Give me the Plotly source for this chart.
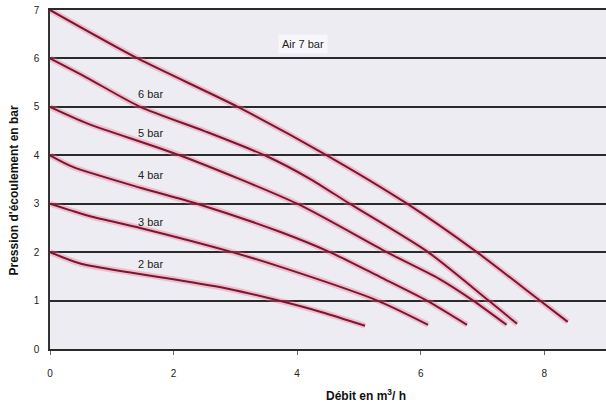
import plotly.graph_objects as go

# Curves: flow (m3/h) vs outlet pressure (bar) for each inlet air pressure
flow_7bar = [0, 1.42, 3.04, 4.48, 5.78, 6.91, 7.93, 8.38]
pres_7bar = [7, 6.0, 5.0, 4.0, 3.0, 2.0, 1.0, 0.56]

flow_6bar = [0, 0.6, 1.46, 2.5, 3.51, 4.2, 4.85, 6.12, 7.1, 7.56]
pres_6bar = [6, 5.6, 5.0, 4.5, 3.98, 3.52, 3.0, 2.0, 1.0, 0.52]

flow_5bar = [0, 0.6, 2.1, 4.0, 5.45, 6.3, 6.85, 7.39]
pres_5bar = [5, 4.66, 4.0, 3.0, 2.0, 1.45, 1.0, 0.5]

flow_4bar = [0, 0.37, 1.46, 2.38, 3.72, 4.53, 5.34, 6.1, 6.75]
pres_4bar = [4, 3.76, 3.33, 3.0, 2.42, 2.0, 1.49, 1.0, 0.5]

flow_3bar = [0, 0.65, 1.46, 2.95, 3.72, 5.3, 6.12]
pres_3bar = [3, 2.74, 2.5, 2.0, 1.7, 1.0, 0.5]

flow_2bar = [0, 0.5, 1.3, 2.0, 2.9, 3.7, 4.4, 5.1]
pres_2bar = [2, 1.76, 1.58, 1.44, 1.24, 1.0, 0.76, 0.48]

curve_names = ["Air 7 bar", "6 bar", "5 bar", "4 bar", "3 bar", "2 bar"]
curve_flows = [flow_7bar, flow_6bar, flow_5bar, flow_4bar, flow_3bar, flow_2bar]
curve_pres = [pres_7bar, pres_6bar, pres_5bar, pres_4bar, pres_3bar, pres_2bar]

label_x = [4.1, 1.62, 1.62, 1.62, 1.62, 1.62]
label_y = [6.29, 5.26, 4.47, 3.60, 2.63, 1.76]

x_ticks = [0, 2, 4, 6, 8]
y_ticks = [0, 1, 2, 3, 4, 5, 6, 7]

fig = go.Figure()

for name, fx, py in zip(curve_names, curve_flows, curve_pres):
    # soft pink halo
    fig.add_trace(go.Scatter(
        x=fx, y=py, mode="lines", showlegend=False, hoverinfo="skip",
        line=dict(color="rgba(240,110,140,0.35)", width=6, shape="spline", smoothing=0.7),
    ))
    fig.add_trace(go.Scatter(
        x=fx, y=py, mode="lines", name=name, showlegend=False,
        line=dict(color="#7a1630", width=2, shape="spline", smoothing=0.7),
    ))

for name, lx, ly in zip(curve_names, label_x, label_y):
    is_main = name.startswith("Air")
    fig.add_annotation(
        x=lx, y=ly, xref="x", yref="y", text=name, showarrow=False,
        font=dict(family="Liberation Sans, Arial", size=11, color="#222"),
        bgcolor="rgba(250,250,252,0.8)" if is_main else None,
        borderpad=3,
    )

fig.add_annotation(
    x=0.568, y=-0.135, xref="paper", yref="paper",
    text="<b>Débit en m<sup>3</sup>/ h</b>", showarrow=False,
    font=dict(family="Liberation Sans, Arial", size=12, color="#111"),
    yanchor="middle",
)
fig.add_annotation(
    x=-0.065, y=0.47, xref="paper", yref="paper",
    text="<b>Pression d'écoulement en bar</b>", showarrow=False, textangle=-90,
    font=dict(family="Liberation Sans, Arial", size=12, color="#111"),
    xanchor="center",
)

fig.update_layout(
    width=606, height=410,
    margin=dict(l=50, r=0, t=10, b=61, autoexpand=False),
    paper_bgcolor="white",
    plot_bgcolor="#ececf2",
    font=dict(family="Liberation Sans, Arial", size=10, color="#222"),
)
fig.update_xaxes(
    range=[0, 9], tickvals=x_ticks, ticktext=[str(v) for v in x_ticks],
    showgrid=False, zeroline=False, automargin=False,
    showline=True, mirror=True, linecolor="#2a2a2a", linewidth=2,
    ticks="outside", ticklen=4, tickcolor="#666",
    ticklabelstandoff=10,
    tickfont=dict(size=10, color="#222"),
)
fig.update_yaxes(
    range=[0, 7], tickvals=y_ticks, ticktext=[str(v) for v in y_ticks],
    showgrid=True, gridcolor="#2a2a2a", gridwidth=2,
    zeroline=False, automargin=False,
    showline=True, linecolor="#333", linewidth=1.5,
    ticks="", ticklabelstandoff=7, ticklabeloverflow="allow",
    tickfont=dict(size=10, color="#222"),
)

# remove the page's default 8px body margin so the figure fills the window
fig.write_html(
    "out.html",
    config={"displayModeBar": False},
    post_script="document.body.style.margin='0';",
)
